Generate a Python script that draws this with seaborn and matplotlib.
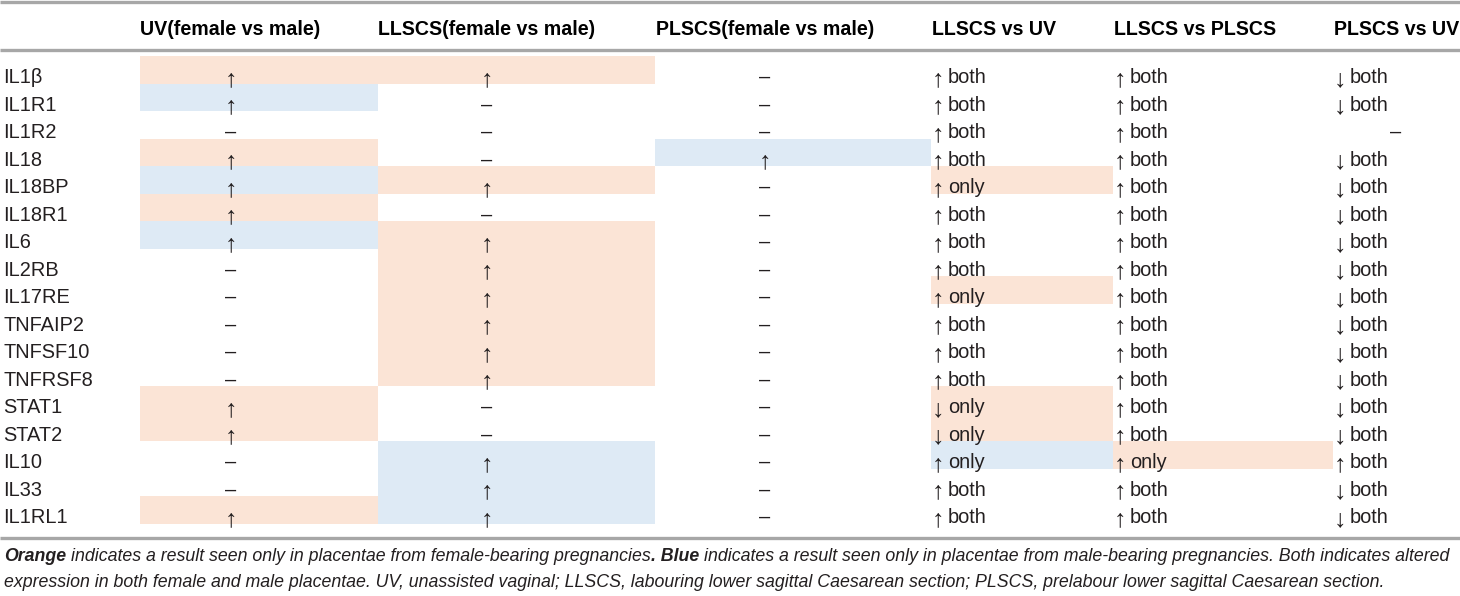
import numpy as np
import pandas as pd
import matplotlib
matplotlib.use("Agg")
import matplotlib.pyplot as plt
import matplotlib.transforms as mtransforms
from matplotlib.colors import ListedColormap
import seaborn as sns

# 表格数据
genes = ["IL1β", "IL1R1", "IL1R2", "IL18", "IL18BP", "IL18R1", "IL6", "IL2RB",
         "IL17RE", "TNFAIP2", "TNFSF10", "TNFRSF8", "STAT1", "STAT2", "IL10",
         "IL33", "IL1RL1"]

headers = ["UV(female vs male)", "LLSCS(female vs male)", "PLSCS(female vs male)",
           "LLSCS vs UV", "LLSCS vs PLSCS", "PLSCS vs UV"]

uv_text = ["↑", "↑", "–", "↑", "↑", "↑", "↑", "–", "–", "–", "–", "–", "↑", "↑", "–", "–", "↑"]
llscs_text = ["↑", "–", "–", "–", "↑", "–", "↑", "↑", "↑", "↑", "↑", "↑", "–", "–", "↑", "↑", "↑"]
plscs_text = ["–", "–", "–", "↑", "–", "–", "–", "–", "–", "–", "–", "–", "–", "–", "–", "–", "–"]
llscs_vs_uv_text = ["↑ both", "↑ both", "↑ both", "↑ both", "↑ only", "↑ both", "↑ both",
                    "↑ both", "↑ only", "↑ both", "↑ both", "↑ both", "↓ only", "↓ only",
                    "↑ only", "↑ both", "↑ both"]
llscs_vs_plscs_text = ["↑ both"] * 14 + ["↑ only", "↑ both", "↑ both"]
plscs_vs_uv_text = ["↓ both", "↓ both", "–", "↓ both", "↓ both", "↓ both", "↓ both",
                    "↓ both", "↓ both", "↓ both", "↓ both", "↓ both", "↓ both", "↓ both",
                    "↑ both", "↓ both", "↓ both"]

# 着色：F = 仅女性（橙色），M = 仅男性（蓝色），"" = 无
uv_sex = ["F", "M", "", "F", "M", "F", "M", "", "", "", "", "", "F", "F", "", "", "F"]
llscs_sex = ["F", "", "", "", "F", "", "F", "F", "F", "F", "F", "F", "", "", "M", "M", "M"]
plscs_sex = ["", "", "", "M", "", "", "", "", "", "", "", "", "", "", "", "", ""]
llscs_vs_uv_sex = ["", "", "", "", "F", "", "", "", "F", "", "", "", "F", "F", "M", "", ""]
llscs_vs_plscs_sex = [""] * 14 + ["F", "", ""]
plscs_vs_uv_sex = [""] * 17

caption_line1 = [("Orange", "bold"),
                 (" indicates a result seen only in placentae from female-bearing pregnancies", "normal"),
                 (". Blue", "bold"),
                 (" indicates a result seen only in placentae from male-bearing pregnancies. Both indicates altered", "normal")]
caption_line2 = [("expression in both female and male placentae. UV, unassisted vaginal; LLSCS, "
                  "labouring lower sagittal Caesarean section; PLSCS, prelabour lower sagittal "
                  "Caesarean section.", "normal")]

# 版式参数（像素）
W, H = 1460, 596
COL_EDGES = [140, 378, 655, 931, 1113, 1333, 1460]
ROW_TOP, ROW_H = 56, 27.5
ORANGE, BLUE = "#FBE4D6", "#DEEAF5"
LINE_C = "#A7A7A7"
TXT_C = "#231F20"
ARROW_SIZE = 18
ARROW_DROP = 2.5 / ROW_H  # 箭头略低于基线

sns.set_style("white")
plt.rcParams["font.family"] = ["Liberation Sans", "DejaVu Sans"]
plt.rcParams["text.color"] = TXT_C

fig = plt.figure(figsize=(W / 100, H / 100), dpi=100)
base = fig.add_axes([0, 0, 1, 1])
base.set_xlim(0, W)
base.set_ylim(H, 0)
base.axis("off")
renderer = fig.canvas.get_renderer()

# 横线
for y in [1.5, 50, 538]:
    base.plot([0, W], [y, y], color=LINE_C, lw=2.4, solid_capstyle="butt")

# 表头
centers = []
for j, h in enumerate(headers):
    t = base.text(COL_EDGES[j] + 0.5, 35, h, fontsize=14.1, fontweight="bold",
                  ha="left", va="baseline", color="#000000")
    bb = t.get_window_extent(renderer)
    centers.append((bb.x0 + bb.x1) / 2)

columns = [(uv_text, uv_sex), (llscs_text, llscs_sex), (plscs_text, plscs_sex),
           (llscs_vs_uv_text, llscs_vs_uv_sex), (llscs_vs_plscs_text, llscs_vs_plscs_sex),
           (plscs_vs_uv_text, plscs_vs_uv_sex)]
code = {"": 0, "F": 1, "M": 2}
cmap = ListedColormap(["#FFFFFF", ORANGE, BLUE])

n = len(genes)
bottom_px = ROW_TOP + n * ROW_H
for j, (texts, sexes) in enumerate(columns):
    x0, x1 = COL_EDGES[j], COL_EDGES[j + 1]
    hax = fig.add_axes([x0 / W, 1 - bottom_px / H, (x1 - x0) / W, n * ROW_H / H])
    df = pd.DataFrame({headers[j]: [code[s] for s in sexes]}, index=genes)
    sns.heatmap(df, cmap=cmap, vmin=-0.5, vmax=2.5, cbar=False,
                xticklabels=False, yticklabels=False, linewidths=0, ax=hax)
    hax.set_xlabel("")
    hax.set_ylabel("")
    trans = mtransforms.blended_transform_factory(base.transData, hax.transData)
    for i, s in enumerate(texts):
        yb = i + 0.99
        if s == "–":
            hax.text(centers[j], yb, s, transform=trans, ha="center",
                     va="baseline", fontsize=14.4)
            continue
        arrow, _, word = s.partition(" ")
        if j < 3:
            hax.text(centers[j], yb + ARROW_DROP, arrow, transform=trans, ha="center",
                     va="baseline", fontsize=ARROW_SIZE)
        else:
            hax.text(x0 + 1, yb + ARROW_DROP, arrow, transform=trans, ha="left",
                     va="baseline", fontsize=ARROW_SIZE)
            hax.text(x0 + 17, yb, word, transform=trans, ha="left",
                     va="baseline", fontsize=14.4)
    if j == 0:
        for i, g in enumerate(genes):
            hax.text(3, i + 0.99, g, transform=trans, ha="left", va="baseline",
                     fontsize=14.4)


# 注释（混合粗体斜体）
def draw_runs(runs, y, size):
    x = 4
    sp = base.text(0, 0, "a a", fontsize=size, fontstyle="italic")
    nsp = base.text(0, 0, "aa", fontsize=size, fontstyle="italic")
    space_w = sp.get_window_extent(renderer).width - nsp.get_window_extent(renderer).width
    sp.remove()
    nsp.remove()
    made = []
    for txt, weight in runs:
        if txt.startswith(" "):
            x += space_w
            txt = txt.lstrip()
        t = base.text(x, y, txt, fontsize=size, fontstyle="italic", fontweight=weight,
                      ha="left", va="baseline", color=TXT_C)
        made.append(t)
        x += t.get_window_extent(renderer).width
    return made, x


# 先试排一次，按首行应占宽度调整字号
trial, end_x = draw_runs(caption_line1, 561, 12)
for t in trial:
    t.remove()
cap_size = 12 * (1454 - 4) / (end_x - 4)
draw_runs(caption_line1, 561, cap_size)
draw_runs(caption_line2, 587, cap_size)

fig.savefig("out.png", dpi=100)
